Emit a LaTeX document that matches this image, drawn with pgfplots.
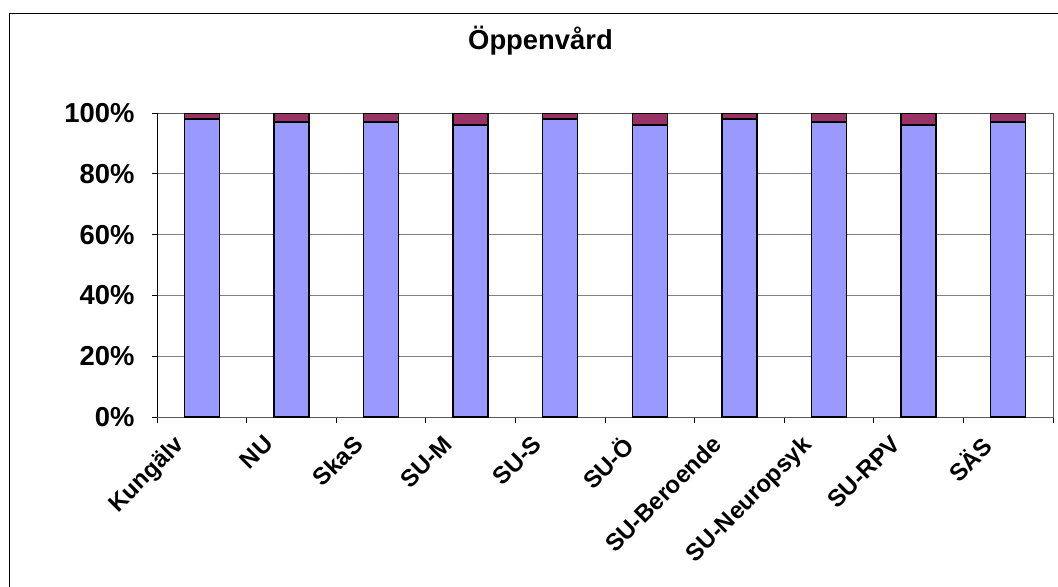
\documentclass[border=0pt]{standalone}
\usepackage{fontspec}
\setmainfont{Liberation Sans}
\usepackage{pgfplots}
\pgfplotsset{compat=1.18}
\definecolor{barblue}{HTML}{9999FF}
\definecolor{barplum}{HTML}{993366}
\begin{document}
\fontsize{13.7pt}{16pt}\selectfont\bfseries
\begin{tikzpicture}
\useasboundingbox (0,0) rectangle (529pt,-293pt);
% chart frame (runs off the right and bottom edges)
\draw[line width=0.7pt] (4.7pt,-6.6pt) rectangle (560pt,-320pt);
\node[anchor=base, inner sep=0pt] at (270.25pt,-24.6pt) {Öppenvård};
\begin{axis}[
  at={(78.5pt,-208.5pt)}, anchor=south west,
  scale only axis, width=448pt, height=152pt,
  ybar stacked, bar width=0.39,
  xmin=-0.5, xmax=9.5, ymin=0, ymax=100,
  xtick={0,...,9},
  xticklabels={Kungälv,NU,SkaS,SU-M,SU-S,SU-Ö,SU-Beroende,SU-Neuropsyk,SU-RPV,SÄS},
  minor xtick={-0.5,0.5,...,9.5},
  major x tick style={draw=none},
  ytick={0,20,...,100},
  yticklabel={\pgfmathprintnumber{\tick}\%},
  /pgf/number format/assume math mode=true,
  tick align=outside, xtick pos=bottom, ytick pos=left,
  major tick length=2.5pt, minor tick length=3pt,
  tick style={black, line width=0.5pt},
  ymajorgrids, grid style={gray, line width=0.5pt},
  axis line style={gray!70!black, line width=0.5pt},
  yticklabel style={xshift=-4pt},
  xticklabel style={xshift=-14.4pt, yshift=-4.3pt, rotate=45, anchor=north east,
    inner sep=1pt, font=\fontsize{12pt}{14pt}\selectfont\bfseries},
]
\addplot[fill=barblue, draw=black, line width=0.7pt] coordinates
  {(0,98) (1,97) (2,97) (3,96) (4,98) (5,96) (6,98) (7,97) (8,96) (9,97)};
\addplot[fill=barplum, draw=black, line width=0.7pt] coordinates
  {(0,2) (1,3) (2,3) (3,4) (4,2) (5,4) (6,2) (7,3) (8,4) (9,3)};
\draw[black, line width=0.6pt] (rel axis cs:0,0) -- (rel axis cs:0,1);
\end{axis}
\end{tikzpicture}
\end{document}
